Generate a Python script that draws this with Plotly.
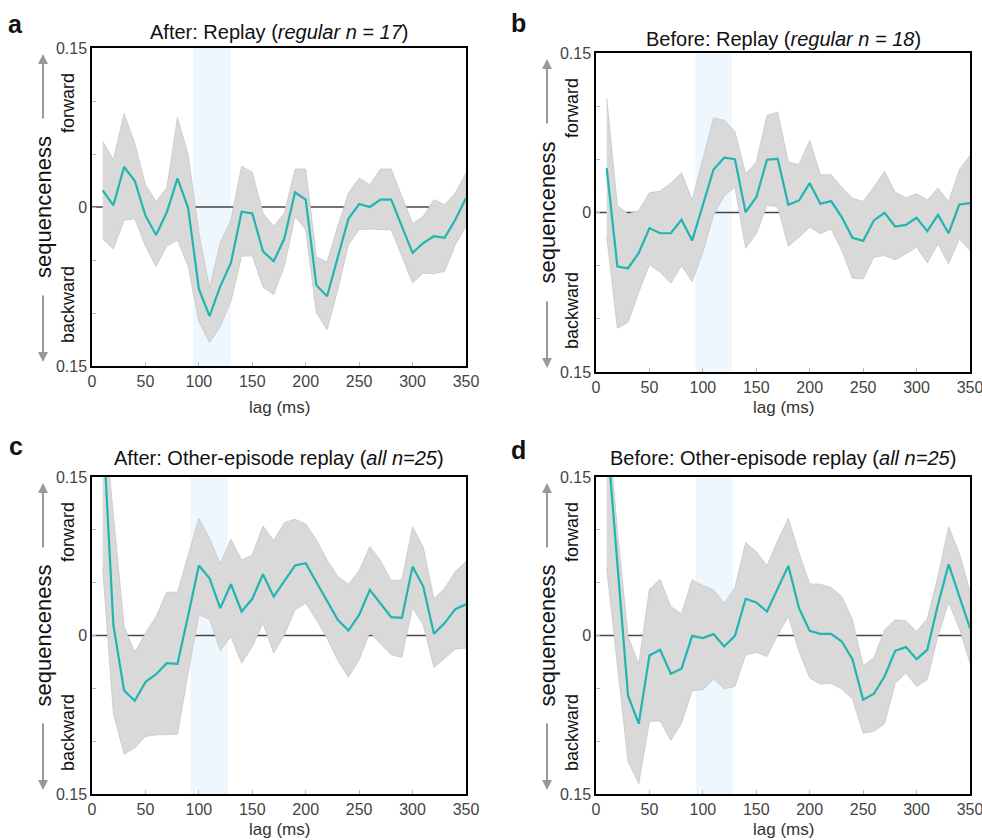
import plotly.graph_objects as go

W, H = 982, 840

lags = [10, 20, 30, 40, 50, 60, 70, 80, 90, 100, 110, 120, 130, 140, 150, 160, 170, 180,
        190, 200, 210, 220, 230, 240, 250, 260, 270, 280, 290, 300, 310, 320, 330, 340, 350]

a_mean = [0.0157, 0.0016, 0.0377, 0.0248, -0.0082, -0.0264, -0.005, 0.027, -0.001, -0.0773,
          -0.103, -0.0748, -0.0528, -0.0044, -0.006, -0.0418, -0.0512, -0.0298, 0.0138, 0.0069,
          -0.0738, -0.0842, -0.0474, -0.011, 0.0028, 0.0, 0.0069, 0.0069, -0.0182, -0.0433,
          -0.034, -0.0276, -0.029, -0.012, 0.0085]
a_upper = [0.0619, 0.0446, 0.088, 0.0603, 0.021, 0.0053, 0.0179, 0.0842, 0.0493, -0.0245,
           -0.0764, -0.034, -0.012, 0.0384, 0.0327, -0.0057, -0.0182, -0.0057, 0.0358, 0.0358,
           -0.0472, -0.0519, -0.0182, 0.0132, 0.0274, 0.021, 0.0358, 0.0358, 0.01, -0.0157,
           -0.0088, 0.0069, 0.0022, 0.0132, 0.032]
a_lower = [-0.030, -0.0396, -0.0126, -0.011, -0.037, -0.056, -0.037, -0.031, -0.056, -0.108,
           -0.128, -0.1125, -0.089, -0.0465, -0.0459, -0.0755, -0.0826, -0.056, -0.0088, -0.0214,
           -0.1, -0.1157, -0.078, -0.0355, -0.0214, -0.0207, -0.0214, -0.0214, -0.0465, -0.0717,
           -0.0623, -0.0629, -0.0607, -0.0355, -0.0182]

b_mean = [0.0417, -0.0508, -0.0524, -0.038, -0.0147, -0.0195, -0.0195, -0.0069, -0.0264, 0.0066,
          0.0405, 0.0515, 0.0502, 0.0003, 0.0144, 0.0496, 0.0505, 0.0072, 0.0113, 0.0276,
          0.0082, 0.0107, -0.0044, -0.0238, -0.0267, -0.0075, -0.0003, -0.0132, -0.0116, -0.005,
          -0.0176, -0.0022, -0.0195, 0.0075, 0.0088]
b_upper = [0.1076, 0.0066, -0.0013, 0.0019, 0.0185, 0.0201, 0.0276, 0.0373, 0.0119, 0.0505,
           0.0891, 0.0866, 0.0763, 0.0364, 0.0474, 0.0913, 0.0945, 0.0474, 0.0452, 0.0678,
           0.0355, 0.0355, 0.0238, 0.0135, 0.0104, 0.0238, 0.0386, 0.0191, 0.0138, 0.0176,
           0.0119, 0.0229, 0.0104, 0.0402, 0.0537]
b_lower = [-0.0223, -0.1089, -0.1032, -0.075, -0.049, -0.0562, -0.0665, -0.0499, -0.065, -0.0373,
           -0.0028, 0.016, 0.0238, -0.0336, -0.0201, 0.0066, 0.0056, -0.0317, -0.0232, -0.0138,
           -0.0201, -0.0154, -0.0358, -0.0618, -0.0624, -0.042, -0.0405, -0.0446, -0.0389, -0.0326,
           -0.0474, -0.0295, -0.0483, -0.0248, -0.0358]

c_mean = [0.204, 0.0101, -0.052, -0.0618, -0.0441, -0.0366, -0.0262, -0.0268, 0.0189, 0.0662,
          0.0542, 0.0258, 0.0485, 0.0227, 0.0347, 0.058, 0.0369, 0.0517, 0.0662, 0.0684,
          0.0504, 0.0321, 0.0148, 0.0047, 0.0195, 0.0432, 0.0306, 0.0173, 0.0167, 0.0652,
          0.0463, 0.0016, 0.0117, 0.0249, 0.0296]
c_upper = [0.22, 0.114, 0.0085, -0.0158, 0.0022, 0.018, 0.041, 0.041, 0.0753, 0.1109,
           0.092, 0.0678, 0.0911, 0.0715, 0.0763, 0.1037, 0.0898, 0.1068, 0.11, 0.1056,
           0.0904, 0.0715, 0.0558, 0.0485, 0.0615, 0.0841, 0.0709, 0.052, 0.0526, 0.103,
           0.0835, 0.0347, 0.0447, 0.0605, 0.07]
c_lower = [0.0637, -0.0734, -0.1122, -0.1065, -0.0955, -0.0939, -0.0939, -0.0933, -0.0356, 0.0195,
           0.0154, -0.0142, -0.0009, -0.0262, -0.0104, 0.0117, -0.0167, 0.0006, 0.0243, 0.0306,
           0.0148, -0.0025, -0.0236, -0.0394, -0.023, 0.0028, -0.0079, -0.0183, -0.0205, 0.0265,
           0.0101, -0.0302, -0.0214, -0.0129, -0.012]

d_mean = [0.193, 0.068, -0.057, -0.0835, -0.0189, -0.0136, -0.0362, -0.0315, -0.0003, -0.0025,
          0.0013, -0.0104, -0.0003, 0.0347, 0.0312, 0.0227, 0.0441, 0.0659, 0.0258, 0.0044,
          0.0016, 0.0016, -0.0057, -0.0224, -0.0608, -0.0551, -0.0388, -0.0145, -0.011, -0.0224,
          -0.0136, 0.029, 0.0674, 0.0378, 0.0069]
d_upper = [0.22, 0.0999, -0.001, -0.0271, 0.0438, 0.0533, 0.0274, 0.0205, 0.0526, 0.0473,
           0.0432, 0.0306, 0.0454, 0.0879, 0.0794, 0.0662, 0.0898, 0.1109, 0.0778, 0.0488,
           0.0485, 0.0454, 0.0369, 0.0148, -0.0284, -0.0214, 0.0054, 0.0148, 0.0139, 0.0038,
           0.0158, 0.0558, 0.103, 0.0778, 0.0416]
d_lower = [0.0637, -0.0277, -0.1191, -0.1402, -0.0813, -0.0807, -0.0993, -0.0829, -0.052, -0.0514,
           -0.0413, -0.0504, -0.0482, -0.0183, -0.0161, -0.0199, 0.0006, 0.018, -0.0151, -0.0403,
           -0.046, -0.0451, -0.0507, -0.0602, -0.0923, -0.0908, -0.0835, -0.0451, -0.0356, -0.0482,
           -0.0419, -0.0003, 0.0312, 0.0069, -0.0262]

titles = ["After: Replay (<i>regular n = 17</i>)",
          "Before: Replay (<i>regular n = 18</i>)",
          "After: Other-episode replay (<i>all n=25</i>)",
          "Before: Other-episode replay (<i>all n=25</i>)"]
letters = ["a", "b", "c", "d"]
shade_ranges = [(94.6, 130), (93, 127), (92, 127), (93.5, 128)]
x_ticks = [0, 50, 100, 150, 200, 250, 300, 350]
y_tickvals = [-0.15, -0.1, -0.05, 0, 0.05, 0.1, 0.15]
y_ticktext = ["0.15", "", "", "0", "", "", "0.15"]

FONT = "Liberation Sans, Arial, Helvetica, sans-serif"
TEAL = "#22b5b0"

# panel boxes in pixels: (left, right, top, bottom)
boxes = [(92, 466, 48, 366), (596, 970, 53, 372), (92, 466, 477, 794), (596, 970, 477, 794)]

def px(x):
    return x / W

def py(y):
    return 1 - y / H

series = [(a_mean, a_upper, a_lower), (b_mean, b_upper, b_lower),
          (c_mean, c_upper, c_lower), (d_mean, d_upper, d_lower)]

fig = go.Figure()
layout = dict(width=W, height=H, margin=dict(l=0, r=0, t=0, b=0, autoexpand=False),
              paper_bgcolor="white", plot_bgcolor="white", showlegend=False,
              font=dict(family=FONT, color="#222"))
shapes = []
annotations = []

for i, (mean, up, lo) in enumerate(series):
    k = "" if i == 0 else str(i + 1)
    xa, ya = "x" + k, "y" + k
    l, r, t, b = boxes[i]
    layout["xaxis" + k] = dict(domain=[px(l), px(r)], anchor=ya, range=[0, 350],
                               tickvals=x_ticks, ticks="inside", ticklen=4, tickcolor="#bbbbbb",
                               showline=True, linecolor="black", linewidth=1.5, mirror=True,
                               showgrid=False, zeroline=False, automargin=False,
                               ticklabeloverflow="allow",
                               tickfont=dict(size=16, color="#444", family=FONT))
    layout["yaxis" + k] = dict(domain=[py(b), py(t)], anchor=xa, range=[-0.15, 0.15],
                               tickvals=y_tickvals, ticktext=y_ticktext, ticks="inside",
                               ticklen=4, tickcolor="#bbbbbb",
                               showline=True, linecolor="black", linewidth=1.5, mirror=True,
                               showgrid=False, zeroline=False, automargin=False,
                               ticklabeloverflow="allow",
                               tickfont=dict(size=16, color="#444", family=FONT))
    s0, s1 = shade_ranges[i]
    shapes.append(dict(type="rect", xref=xa, yref=ya, x0=s0, x1=s1, y0=-0.15, y1=0.15,
                       fillcolor="#eef7fe", line=dict(width=0), layer="below"))
    shapes.append(dict(type="line", xref=xa, yref=ya, x0=0, x1=350, y0=0, y1=0,
                       line=dict(color="#444", width=1.5), layer="below"))
    fig.add_trace(go.Scatter(x=lags + lags[::-1], y=up + lo[::-1], fill="toself",
                             fillcolor="#d9d9d9", line=dict(color="#c6c6c6", width=0.8),
                             mode="lines", xaxis=xa, yaxis=ya, hoverinfo="skip"))
    fig.add_trace(go.Scatter(x=lags, y=mean, mode="lines", line=dict(color=TEAL, width=2.2),
                             xaxis=xa, yaxis=ya))

    cx = (l + r) / 2
    # title
    ty = [32, 39, 458, 458][i]
    annotations.append(dict(text=titles[i], xref="paper", yref="paper", x=px(cx), y=py(ty),
                            showarrow=False, font=dict(size=20, color="#111"),
                            xanchor="center", yanchor="middle"))
    # letter
    lx = 16 if i % 2 == 0 else 518
    ly = [24, 23, 446, 450][i]
    annotations.append(dict(text="<b>" + letters[i] + "</b>", xref="paper", yref="paper",
                            x=px(lx), y=py(ly), showarrow=False,
                            font=dict(size=25, color="#111"), xanchor="center", yanchor="middle"))
    # x label
    lagy = 407 if i < 2 else 829
    annotations.append(dict(text="lag (ms)", xref="paper", yref="paper", x=px(cx), y=py(lagy),
                            showarrow=False, font=dict(size=17, color="#333"),
                            xanchor="center", yanchor="middle"))
    # y labels
    mid = (t + b) / 2
    seqx = l - 49
    fwx = l - 24
    annotations.append(dict(text="sequenceness", xref="paper", yref="paper", x=px(seqx),
                            y=py(mid), textangle=-90, showarrow=False,
                            font=dict(size=22, color="#111"), xanchor="center", yanchor="middle"))
    annotations.append(dict(text="forward", xref="paper", yref="paper", x=px(fwx),
                            y=py(t + 55), textangle=-90, showarrow=False,
                            font=dict(size=18, color="#111"), xanchor="center", yanchor="middle"))
    annotations.append(dict(text="backward", xref="paper", yref="paper", x=px(fwx),
                            y=py(b - 61), textangle=-90, showarrow=False,
                            font=dict(size=18, color="#111"), xanchor="center", yanchor="middle"))
    # arrows
    ax_x = l - 49
    annotations.append(dict(text="", xref="paper", yref="paper", x=px(ax_x), y=py(t + 6),
                            showarrow=True, ax=0, ay=66, arrowhead=2, arrowsize=1,
                            arrowwidth=2, arrowcolor="#999"))
    annotations.append(dict(text="", xref="paper", yref="paper", x=px(ax_x), y=py(b - 4),
                            showarrow=True, ax=0, ay=-68, arrowhead=2, arrowsize=1,
                            arrowwidth=2, arrowcolor="#999"))

layout["shapes"] = shapes
layout["annotations"] = annotations
fig.update_layout(**layout)
fig.write_html("out.html")
